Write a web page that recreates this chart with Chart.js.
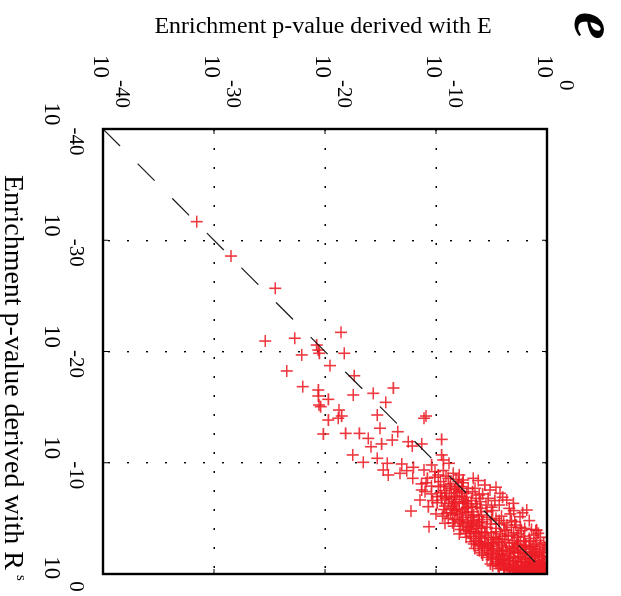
<!DOCTYPE html>
<html>
<head>
<meta charset="utf-8">
<title>Enrichment p-value, E vs R^s</title>
<script src="https://cdn.jsdelivr.net/npm/chart.js@4.4.1/dist/chart.umd.min.js"></script>
<style>
  html, body { margin: 0; padding: 0; background: #fff; }
  body { width: 621px; height: 596px; overflow: hidden; position: relative; }
  /* the printed panel is turned a quarter turn clockwise */
  #panel { position: absolute; left: 0; top: 0; width: 596px; height: 621px;
           transform-origin: 0 0; transform: translateX(621px) rotate(90deg); }
</style>
</head>
<body>
<div id="panel"><canvas id="enrichChart" width="596" height="621"></canvas></div>
<script>
(function () {
    'use strict';

    // log10 of the p-values: [derived with R^s, derived with E]
    const logTicks = [-40, -30, -20, -10, 0];
    const diagonal = [-40, 0];

    const outlierPoints = [
        [-31.67, -31.56], [-28.58, -28.47], [-25.68, -24.48], [-20.94, -25.38],
        [-21.19, -22.73], [-20.58, -20.75], [-20.13, -20.6], [-19.84, -20.51],
        [-19.69, -22.1], [-21.72, -18.56], [-19.84, -18.26], [-18.73, -19.55],
        [-18.25, -23.45], [-17.82, -17.36], [-16.84, -22.0], [-16.54, -20.6],
        [-16.0, -20.6], [-15.7, -19.7], [-16.09, -17.45], [-16.24, -15.65],
        [-15.19, -20.54], [-16.72, -13.84], [-15.43, -14.53], [-15.04, -20.39],
        [-14.74, -18.74], [-14.2, -18.5], [-14.0, -18.8], [-13.84, -19.7],
        [-14.29, -15.29], [-14.2, -10.9], [-14.0, -11.08], [-13.1, -15.05],
        [-12.79, -13.45], [-12.58, -20.15], [-12.64, -18.14], [-12.64, -16.9],
        [-12.19, -16.1], [-11.44, -15.86], [-11.69, -14.9], [-12.04, -13.94],
        [-11.89, -12.5], [-11.5, -12.14], [-11.69, -11.29], [-12.1, -9.49],
        [-10.7, -17.5], [-10.04, -16.55], [-10.4, -15.29], [-9.95, -14.39],
        [-9.35, -14.75], [-8.9, -14.3], [-9.05, -13.24], [-9.89, -13.09],
        [-9.29, -12.64], [-9.59, -12.04], [-8.6, -12.1], [-9.35, -11.08],
        [-8.6, -10.78], [-8.2, -10.9], [-9.8, -10.39], [-10.7, -9.49],
        [-10.25, -9.34], [-9.95, -8.83], [-9.2, -10.09], [-9.3, -9.34],
        [-7.55, -11.29], [-7.4, -10.99], [-6.65, -11.44], [-6.05, -10.69],
        [-5.66, -12.25], [-4.25, -10.63], [-4.56, -9.19], [-5.46, -9.04],
        [-7.85, -9.79], [-6.95, -9.88], [-6.65, -9.49], [-7.25, -9.04],
        [-9.05, -8.44], [-8.9, -7.9], [-8.45, -7.54], [-8.6, -6.64],
        [-7.85, -7.68], [-7.85, -8.74], [-6.95, -8.2], [-7.25, -7.23],
        [-7.7, -6.49], [-6.35, -8.89], [-5.75, -8.14], [-6.35, -7.54],
        [-4.85, -7.84], [-3.66, -7.23], [-7.55, -5.14], [-7.25, -4.23],
        [-6.65, -3.63], [-5.75, -1.83], [-5.15, -2.43], [-6.35, -3.03],
        [-3.96, -0.93], [-3.66, -0.78]
    ];

    // the dense cloud near 10^0
    const clusterPoints = [
        [-8.3, -9.6], [-8.1, -8.7], [-7.9, -10.4], [-7.7, -7.1], [-8.4, -6.2],
        [-7.6, -8.3], [-7.5, -9.2], [-8.0, -5.6], [-7.8, -4.6],
        [-7.3, -8.1], [-7.1, -6.1], [-7.0, -9.5], [-6.9, -7.4], [-6.8, -5.3],
        [-6.7, -8.6], [-6.6, -6.8], [-7.2, -5.8], [-6.9, -4.0], [-6.6, -10.3],
        [-6.4, -7.9], [-6.3, -6.4], [-6.2, -5.5], [-6.1, -8.5], [-6.0, -7.2],
        [-5.9, -6.0], [-5.8, -9.3], [-5.7, -4.9], [-5.6, -7.6], [-6.2, -4.3],
        [-5.9, -3.4], [-5.6, -6.7], [-6.4, -9.9],
        [-5.4, -8.1], [-5.3, -7.1], [-5.2, -6.2], [-5.1, -5.4], [-5.0, -4.6],
        [-4.9, -7.7], [-4.8, -6.6], [-4.7, -5.8], [-4.6, -3.9], [-5.4, -3.3],
        [-5.0, -8.9], [-4.7, -2.9], [-5.3, -5.9], [-4.9, -5.0], [-4.6, -7.2],
        [-5.5, -2.2], [-4.8, -1.6],
        [-4.4, -6.3], [-4.3, -7.5], [-4.2, -5.4], [-4.1, -4.6], [-4.0, -6.9],
        [-3.9, -3.7], [-3.8, -5.9], [-3.7, -5.0], [-3.6, -4.2], [-4.4, -2.8],
        [-4.2, -3.2], [-3.9, -2.3], [-3.6, -7.9], [-4.3, -8.4], [-3.8, -6.6],
        [-4.0, -1.4], [-3.7, -3.0], [-4.5, -4.3],
        [-3.4, -6.1], [-3.3, -5.3], [-3.2, -4.6], [-3.1, -3.8], [-3.0, -2.9],
        [-2.9, -6.8], [-2.8, -5.6], [-2.7, -4.9], [-2.6, -4.1], [-2.5, -3.4],
        [-3.4, -2.1], [-3.2, -1.6], [-2.9, -2.4], [-2.6, -1.9], [-3.3, -7.3],
        [-2.8, -3.1], [-3.0, -0.9], [-2.6, -6.2], [-3.4, -3.5], [-2.5, -1.2],
        [-2.4, -5.4], [-2.3, -4.5], [-2.2, -3.7], [-2.1, -2.9], [-2.0, -2.2],
        [-1.9, -5.9], [-1.8, -4.9], [-1.7, -4.1], [-1.6, -3.3], [-1.5, -2.6],
        [-2.4, -1.6], [-2.2, -0.9], [-1.9, -1.4], [-1.7, -0.7], [-2.3, -6.5],
        [-2.0, -3.3], [-1.8, -2.0], [-1.6, -1.1], [-2.4, -2.7], [-2.1, -4.0],
        [-1.5, -0.4], [-2.2, -0.4],
        [-1.4, -4.6], [-1.3, -3.8], [-1.2, -3.0], [-1.1, -2.3], [-1.0, -1.7],
        [-0.9, -5.1], [-0.8, -4.2], [-0.7, -3.4], [-0.6, -2.7], [-1.4, -1.3],
        [-1.2, -0.8], [-1.0, -0.5], [-0.8, -1.2], [-0.7, -2.0], [-0.6, -0.9],
        [-1.3, -2.0], [-1.1, -1.4], [-0.9, -3.1], [-0.5, -1.5], [-1.5, -1.8],
        [-1.3, -0.3], [-0.9, -0.3], [-0.6, -0.5], [-1.0, -2.6], [-1.4, -3.4],
        [-0.45, -3.9], [-0.4, -3.1], [-0.35, -2.4], [-0.3, -1.8], [-0.25, -1.2],
        [-0.2, -0.7], [-0.45, -0.4], [-0.3, -0.25], [-0.4, -1.0], [-0.25, -2.1],
        [-0.2, -0.35], [-0.35, -0.6], [-0.15, -1.5], [-0.3, -2.8],
        [-0.7, -0.3], [-0.5, -0.7], [-0.8, -0.6], [-1.1, -0.2], [-0.2, -0.9],
        [-0.55, -1.2], [-0.9, -1.6], [-1.2, -1.1], [-0.65, -1.7], [-0.4, -2.0],
        [-0.8, -2.3], [-0.2, -2.5], [-1.7, -1.5], [-1.9, -0.3], [-1.6, -2.4],
        [-2.0, -1.2], [-2.2, -1.9], [-2.6, -0.6], [-2.7, -2.7], [-3.0, -2.0],
        [-3.5, -1.2], [-3.1, -4.3], [-3.6, -2.6], [-4.1, -2.0], [-2.8, -0.3],
        [-8.8, -9.1], [-8.5, -8.2], [-8.2, -7.6], [-8.7, -10.1], [-7.9, -8.0],
        [-7.4, -7.7], [-8.1, -11.3], [-7.2, -10.4], [-7.0, -8.4], [-7.4, -6.7],
        [-6.8, -9.1], [-6.5, -7.3], [-6.3, -8.4], [-6.1, -6.8], [-5.8, -7.9],
        [-5.6, -5.4], [-5.5, -8.7], [-5.3, -6.6], [-5.2, -4.1], [-5.1, -7.6],
        [-6.0, -5.0], [-6.5, -6.0], [-5.7, -3.0], [-5.9, -8.6], [-6.6, -4.7],
        [-5.4, -10.0],
        [-4.9, -6.1], [-4.8, -4.3], [-4.7, -7.9], [-4.5, -5.1], [-4.4, -3.6],
        [-4.3, -6.8], [-4.1, -5.9], [-4.0, -3.8], [-3.9, -7.3], [-3.8, -4.6],
        [-3.7, -6.2], [-3.5, -5.5], [-3.4, -4.0], [-3.3, -2.7], [-3.2, -6.6],
        [-3.1, -5.0], [-4.6, -8.5], [-4.2, -2.4], [-3.9, -1.0], [-3.5, -3.2],
        [-4.8, -3.2], [-4.5, -6.7],
        [-2.9, -4.4], [-2.8, -3.7], [-2.7, -5.9], [-2.6, -2.6], [-2.5, -5.1],
        [-2.4, -4.0], [-2.3, -3.1], [-2.2, -2.4], [-2.1, -5.0], [-2.0, -4.3],
        [-1.9, -2.6], [-1.8, -3.6], [-1.7, -5.3], [-1.6, -4.4], [-1.5, -3.0],
        [-1.4, -2.2], [-1.3, -4.2], [-1.2, -3.5], [-1.1, -2.8], [-1.05, -1.9],
        [-2.9, -1.5], [-2.7, -1.0], [-2.3, -1.3], [-2.0, -0.7], [-1.8, -1.0],
        [-1.6, -0.5], [-2.5, -2.1], [-2.8, -4.8], [-1.9, -3.0], [-1.5, -4.9],
        [-0.95, -4.6], [-0.85, -3.7], [-0.75, -2.8], [-0.65, -2.3], [-0.55, -3.3],
        [-0.5, -2.0], [-0.45, -2.7], [-0.35, -1.4], [-0.25, -0.9], [-0.15, -0.5],
        [-0.15, -2.2], [-0.6, -1.3], [-0.7, -0.8], [-0.85, -1.9], [-1.0, -1.1],
        [-0.4, -0.2], [-0.3, -3.4], [-0.2, -1.9], [-0.5, -4.3], [-0.75, -4.9],
        [-3.3, -0.6], [-2.4, -0.2],
        [-8.6, -8.9], [-8.3, -8.0], [-8.0, -9.3], [-7.7, -8.6], [-7.5, -7.9],
        [-7.3, -9.6], [-8.9, -9.8], [-7.0, -7.7],
        [-6.9, -8.8], [-6.7, -7.6], [-6.5, -8.3], [-6.3, -7.1], [-6.1, -9.2],
        [-5.9, -7.4], [-5.7, -8.3], [-5.5, -7.3], [-5.3, -8.5], [-5.1, -6.8],
        [-6.8, -6.4], [-6.0, -6.3], [-5.2, -9.4],
        [-4.9, -8.3], [-4.7, -6.9], [-4.5, -7.6], [-4.3, -5.9], [-4.2, -7.1],
        [-4.0, -7.8], [-3.8, -7.0], [-3.6, -6.4], [-3.4, -6.9], [-3.2, -5.9],
        [-3.0, -6.4], [-4.1, -6.4], [-3.7, -5.6], [-4.6, -6.1], [-3.3, -4.8],
        [-2.9, -6.0], [-2.7, -6.6], [-2.5, -5.8], [-2.3, -5.6], [-2.1, -6.1],
        [-1.9, -5.1], [-1.7, -5.8], [-1.5, -5.4], [-1.3, -5.0], [-1.1, -4.5],
        [-2.6, -5.3], [-2.2, -4.9], [-1.8, -4.3], [-1.4, -3.9], [-1.2, -4.0],
        [-1.0, -3.8],
        [-0.9, -4.0], [-0.7, -4.4], [-0.55, -3.8], [-0.35, -3.6], [-0.2, -3.0],
        [-0.6, -3.0]
    ];

    const SERIF = '"Liberation Serif", "Times New Roman", serif';
    const RED = 'rgba(236, 28, 36, 0.88)';

    // MATLAB look: boxed axes, inward ticks, 10^n labels, titles
    const matlabAxes = {
        id: 'matlabAxes',
        afterDraw(chart) {
            const { ctx, chartArea: a } = chart;
            const xs = chart.scales.x;
            const ys = chart.scales.y;

            ctx.save();
            ctx.strokeStyle = '#000';
            ctx.lineWidth = 1;
            ctx.beginPath();
            logTicks.forEach((v) => {
                const px = xs.getPixelForValue(v);
                const py = ys.getPixelForValue(v);
                ctx.moveTo(px, a.bottom); ctx.lineTo(px, a.bottom - 5);
                ctx.moveTo(px, a.top); ctx.lineTo(px, a.top + 5);
                ctx.moveTo(a.left, py); ctx.lineTo(a.left + 5, py);
                ctx.moveTo(a.right, py); ctx.lineTo(a.right - 5, py);
            });
            ctx.stroke();

            ctx.lineWidth = 2.4;
            ctx.strokeRect(a.left, a.top, a.right - a.left, a.bottom - a.top);

            ctx.fillStyle = '#000';
            ctx.textBaseline = 'alphabetic';

            // y tick labels
            logTicks.forEach((v) => {
                const py = ys.getPixelForValue(v);
                ctx.font = '23px ' + SERIF;
                ctx.textAlign = 'right';
                ctx.fillText('10', a.left - 51, py + 9);
                ctx.font = '21px ' + SERIF;
                ctx.textAlign = 'left';
                ctx.fillText(String(v), a.left - 49, py - 13);
            });

            // x tick labels, centred on the tick as a whole
            ctx.textAlign = 'left';
            logTicks.forEach((v) => {
                const px = xs.getPixelForValue(v);
                ctx.font = '23px ' + SERIF;
                const wBase = ctx.measureText('10').width;
                ctx.font = '21px ' + SERIF;
                const wExp = ctx.measureText(String(v)).width;
                const x0 = px - (wBase + 2 + wExp) / 2;
                ctx.font = '23px ' + SERIF;
                ctx.fillText('10', x0, a.bottom + 58);
                ctx.font = '21px ' + SERIF;
                ctx.fillText(String(v), x0 + wBase + 2, a.bottom + 33);
            });

            // x axis title with superscript s
            ctx.font = '28px ' + SERIF;
            const xTitle = 'Enrichment p-value derived with R';
            ctx.fillText(xTitle, 175, 616);
            const wTitle = ctx.measureText(xTitle).width;
            ctx.font = '15px ' + SERIF;
            ctx.fillText('s', 175 + wTitle + 5, 604);

            // y axis title, reading upwards
            ctx.save();
            ctx.translate(33, (a.top + a.bottom) / 2 + 2);
            ctx.rotate(-Math.PI / 2);
            ctx.textAlign = 'center';
            ctx.font = '24px ' + SERIF;
            ctx.fillText('Enrichment p-value derived with E', 0, 0);
            ctx.restore();

            // panel letter
            ctx.textAlign = 'left';
            ctx.font = 'italic bold 62px ' + SERIF;
            ctx.fillText('e', 12, 46);

            ctx.restore();
        }
    };

    const axisOptions = {
        type: 'linear',
        min: -40,
        max: 0,
        ticks: { display: false, stepSize: 10 },
        grid: { color: '#000', lineWidth: 1.4, drawTicks: false },
        border: { display: false, dash: [2, 17] }
    };

    new Chart(document.getElementById('enrichChart'), {
        type: 'scatter',
        data: {
            datasets: [{
                type: 'line',
                data: diagonal.map((v) => ({ x: v, y: v })),
                borderColor: '#1a1a1a',
                borderWidth: 1.2,
                borderDash: [24, 25],
                pointRadius: 0,
                fill: false,
                order: 0
            }, {
                data: outlierPoints.concat(clusterPoints).map((p) => ({ x: p[0], y: p[1] })),
                pointStyle: 'cross',
                pointRadius: 6,
                borderWidth: 1.6,
                borderColor: RED,
                backgroundColor: RED,
                order: 1
            }]
        },
        options: {
            responsive: false,
            animation: false,
            events: [],
            layout: { padding: { left: 129, right: 22, top: 74, bottom: 103 } },
            plugins: {
                legend: { display: false },
                tooltip: { enabled: false }
            },
            scales: {
                x: axisOptions,
                y: Object.assign({}, axisOptions)
            }
        },
        plugins: [matlabAxes]
    });
})();
</script>
</body>
</html>
